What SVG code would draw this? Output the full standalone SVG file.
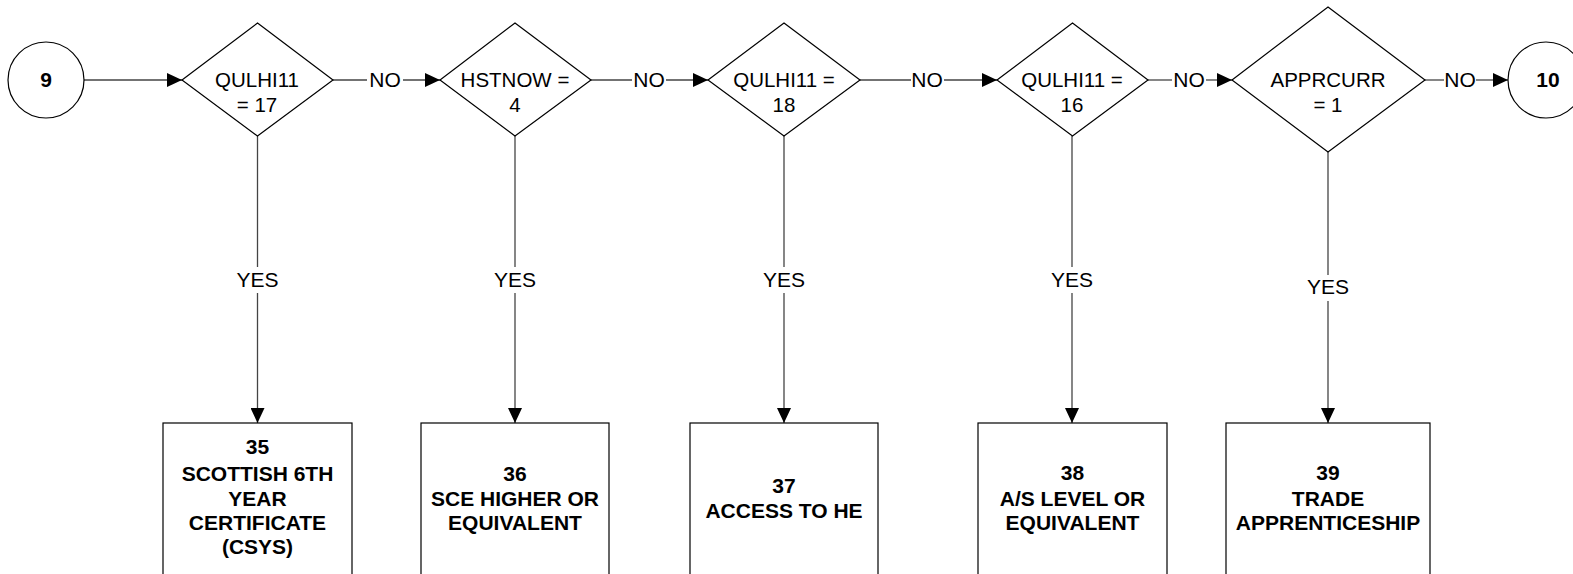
<svg xmlns="http://www.w3.org/2000/svg" width="1573" height="574" viewBox="0 0 1573 574">
<style>
.shape{fill:#fff;stroke:#000;stroke-width:1.2}
.conn{stroke:#444;stroke-width:1.3;fill:none}
.lbl{font-family:"Liberation Sans",Arial,sans-serif;font-size:21px;fill:#000;text-anchor:middle}
.dt{font-family:"Liberation Sans",Arial,sans-serif;font-size:20.5px;fill:#000;text-anchor:middle}
.bt{font-family:"Liberation Sans",Arial,sans-serif;font-size:21px;font-weight:bold;fill:#000;text-anchor:middle}
</style>
<defs>
<marker id="arr" markerUnits="userSpaceOnUse" markerWidth="16" markerHeight="14" refX="15" refY="7" orient="auto">
<path d="M0,0 L15,7 L0,14 Z" fill="#000"/>
</marker>
</defs>
<rect width="1573" height="574" fill="#fff"/>
<g id="connectors">
<line class="conn" x1="84" y1="80" x2="182" y2="80" marker-end="url(#arr)"/>
<line class="conn" x1="333" y1="80" x2="367" y2="80"/>
<line class="conn" x1="403" y1="80" x2="440" y2="80" marker-end="url(#arr)"/>
<text class="lbl" x="385" y="87">NO</text>
<line class="conn" x1="591" y1="80" x2="632" y2="80"/>
<line class="conn" x1="666" y1="80" x2="708" y2="80" marker-end="url(#arr)"/>
<text class="lbl" x="649" y="87">NO</text>
<line class="conn" x1="860" y1="80" x2="911" y2="80"/>
<line class="conn" x1="944" y1="80" x2="997" y2="80" marker-end="url(#arr)"/>
<text class="lbl" x="927" y="87">NO</text>
<line class="conn" x1="1148" y1="80" x2="1172" y2="80"/>
<line class="conn" x1="1206" y1="80" x2="1232" y2="80" marker-end="url(#arr)"/>
<text class="lbl" x="1189" y="87">NO</text>
<line class="conn" x1="1425" y1="80" x2="1444" y2="80"/>
<line class="conn" x1="1476" y1="80" x2="1508" y2="80" marker-end="url(#arr)"/>
<text class="lbl" x="1460" y="87">NO</text>
<line class="conn" x1="257.5" y1="136" x2="257.5" y2="267"/>
<line class="conn" x1="257.5" y1="293" x2="257.5" y2="423" marker-end="url(#arr)"/>
<text class="lbl" x="257.5" y="287">YES</text>
<line class="conn" x1="515" y1="136" x2="515" y2="267"/>
<line class="conn" x1="515" y1="293" x2="515" y2="423" marker-end="url(#arr)"/>
<text class="lbl" x="515" y="287">YES</text>
<line class="conn" x1="784" y1="136" x2="784" y2="267"/>
<line class="conn" x1="784" y1="293" x2="784" y2="423" marker-end="url(#arr)"/>
<text class="lbl" x="784" y="287">YES</text>
<line class="conn" x1="1072" y1="136" x2="1072" y2="267"/>
<line class="conn" x1="1072" y1="293" x2="1072" y2="423" marker-end="url(#arr)"/>
<text class="lbl" x="1072" y="287">YES</text>
<line class="conn" x1="1328" y1="152" x2="1328" y2="275"/>
<line class="conn" x1="1328" y1="301" x2="1328" y2="423" marker-end="url(#arr)"/>
<text class="lbl" x="1328" y="294">YES</text>
</g>
<g id="start9">
<circle class="shape" cx="46" cy="80" r="38"/>
<text class="bt" x="46" y="87">9</text>
</g>
<g id="d1">
<polygon class="shape" points="257.5,23 333,80 257.5,136 182,80"/>
<text class="dt" x="257" y="87">QULHI11</text>
<text class="dt" x="257" y="112">= 17</text>
</g>
<g id="d2">
<polygon class="shape" points="515,23 591,80 515,136 440,80"/>
<text class="dt" x="515" y="87">HSTNOW =</text>
<text class="dt" x="515" y="112">4</text>
</g>
<g id="d3">
<polygon class="shape" points="784,23 860,80 784,136 708,80"/>
<text class="dt" x="784" y="87">QULHI11 =</text>
<text class="dt" x="784" y="112">18</text>
</g>
<g id="d4">
<polygon class="shape" points="1072.5,23 1148,80 1072.5,136 997,80"/>
<text class="dt" x="1072" y="87">QULHI11 =</text>
<text class="dt" x="1072" y="112">16</text>
</g>
<g id="d5">
<polygon class="shape" points="1328,7 1425,80 1328,152 1232,80"/>
<text class="dt" x="1328" y="87">APPRCURR</text>
<text class="dt" x="1328" y="112">= 1</text>
</g>
<g id="end10">
<circle class="shape" cx="1546" cy="80" r="38"/>
<text class="bt" x="1548" y="87">10</text>
</g>
<g id="b35">
<rect class="shape" x="163" y="423" width="189" height="160"/>
<text class="bt" x="257.5" y="454">35</text>
<text class="bt" x="257.5" y="481">SCOTTISH 6TH</text>
<text class="bt" x="257.5" y="506">YEAR</text>
<text class="bt" x="257.5" y="530">CERTIFICATE</text>
<text class="bt" x="257.5" y="554">(CSYS)</text>
</g>
<g id="b36">
<rect class="shape" x="421" y="423" width="188" height="160"/>
<text class="bt" x="515" y="481">36</text>
<text class="bt" x="515" y="506">SCE HIGHER OR</text>
<text class="bt" x="515" y="530">EQUIVALENT</text>
</g>
<g id="b37">
<rect class="shape" x="690" y="423" width="188" height="160"/>
<text class="bt" x="784" y="493">37</text>
<text class="bt" x="784" y="518">ACCESS TO HE</text>
</g>
<g id="b38">
<rect class="shape" x="978" y="423" width="189" height="160"/>
<text class="bt" x="1072.5" y="480">38</text>
<text class="bt" x="1072.5" y="506">A/S LEVEL OR</text>
<text class="bt" x="1072.5" y="530">EQUIVALENT</text>
</g>
<g id="b39">
<rect class="shape" x="1226" y="423" width="204" height="160"/>
<text class="bt" x="1328" y="480">39</text>
<text class="bt" x="1328" y="506">TRADE</text>
<text class="bt" x="1328" y="530">APPRENTICESHIP</text>
</g>
</svg>
